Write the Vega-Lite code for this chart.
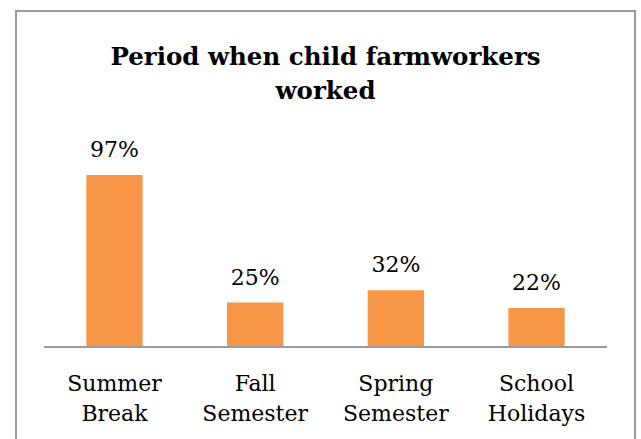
{
  "$schema": "https://vega.github.io/schema/vega-lite/v6.json",
  "autosize": "none",
  "padding": {"left": 16, "top": 11, "right": 6, "bottom": 0},
  "width": 619,
  "height": 440,
  "background": "white",
  "title": {
    "text": ["Period when child farmworkers", "worked"],
    "font": "DejaVu Serif",
    "fontWeight": "bold",
    "fontSize": 24.5,
    "lineHeight": 34,
    "color": "#000000",
    "anchor": "middle",
    "frame": "group",
    "orient": "top",
    "baseline": "top",
    "offset": -93
  },
  "data": {
    "values": [
      {"period": "Summer Break", "share": 0.97},
      {"period": "Fall Semester", "share": 0.25},
      {"period": "Spring Semester", "share": 0.32},
      {"period": "School Holidays", "share": 0.22}
    ]
  },
  "encoding": {
    "x": {
      "field": "period",
      "type": "nominal",
      "sort": null,
      "scale": {"paddingInner": 0.6, "paddingOuter": 0.5},
      "axis": {
        "title": null,
        "orient": "bottom",
        "offset": -104,
        "domain": false,
        "ticks": false,
        "tickSize": 0,
        "labelAngle": 0,
        "labelFont": "DejaVu Serif",
        "labelFontSize": 22,
        "labelColor": "#000000",
        "labelLineHeight": 30,
        "labelPadding": 26,
        "labelBaseline": "top",
        "labelExpr": "split(datum.label, ' ')"
      }
    },
    "y": {
      "field": "share",
      "type": "quantitative",
      "scale": {"domain": [-0.587, 1.895], "nice": false, "zero": false},
      "axis": null
    }
  },
  "layer": [
    {"mark": {"type": "bar", "color": "#F79646"}},
    {
      "mark": {"type": "text", "dy": -18, "baseline": "alphabetic", "font": "DejaVu Serif", "fontSize": 22, "color": "#000000"},
      "encoding": {"text": {"field": "share", "type": "quantitative", "format": ".0%"}}
    },
    {
      "data": {"values": [{"first": "Summer Break", "last": "School Holidays", "base": 0}]},
      "mark": {"type": "rule", "color": "#9a9a9a", "strokeWidth": 2},
      "encoding": {
        "x": {"field": "first", "type": "nominal", "bandPosition": -0.75},
        "x2": {"field": "last", "bandPosition": 1.75},
        "y": {"field": "base", "type": "quantitative"}
      }
    }
  ],
  "config": {
    "view": {"stroke": "#9a9a9a", "strokeWidth": 2}
  }
}
